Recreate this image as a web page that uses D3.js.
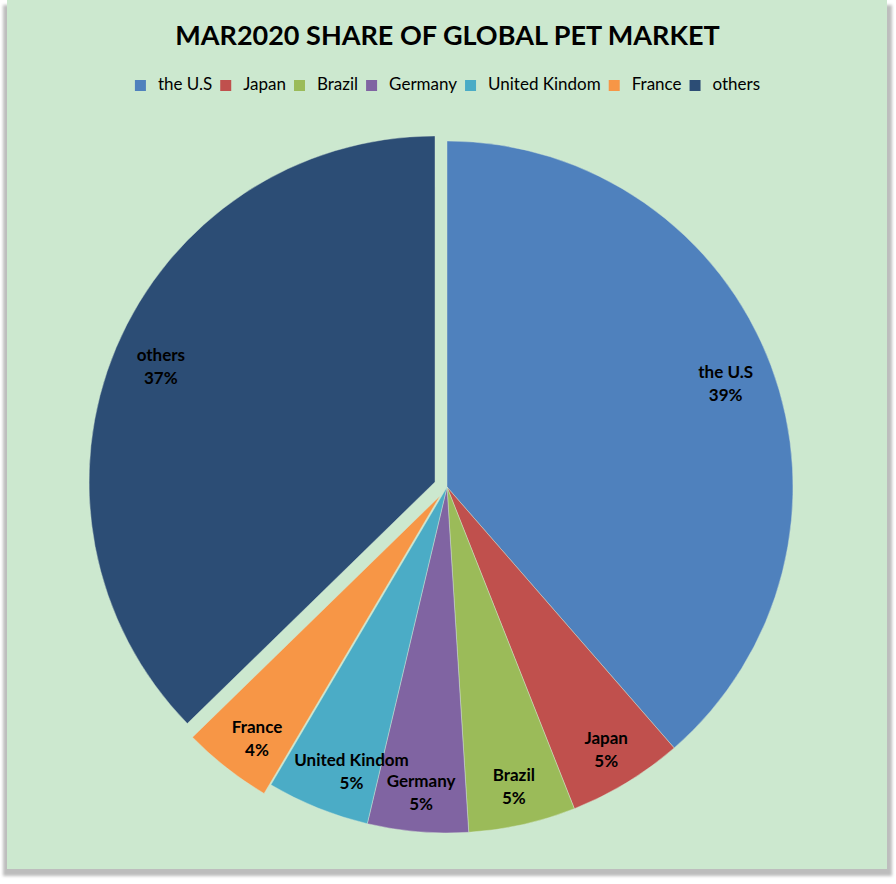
<!DOCTYPE html>
<html><head><meta charset="utf-8">
<script src="https://cdn.jsdelivr.net/npm/d3@7"></script>
<style>html,body{margin:0;padding:0;background:#fff;}svg{display:block;}</style>
</head><body>
<svg id="chart" width="896" height="884"></svg>
<script>
const titleText = "MAR2020 SHARE OF GLOBAL PET MARKET";
const categories = ["the U.S", "Japan", "Brazil", "Germany", "United Kindom", "France", "others"];
const values = [38.6, 5.4, 5.0, 4.7, 4.8, 4.2, 37.3];
const colors = ["#4F81BD", "#C0504D", "#9BBB59", "#8064A2", "#4BACC6", "#F79646", "#2C4D75"];
const explodedNames = ["France", "others"];

const W = 896, H = 884;
const svg = d3.select("#chart");
const FONT = "Lato, 'Open Sans', sans-serif";

const defs = svg.append("defs");
const f = defs.append("filter").attr("id", "sh").attr("x", "-5%").attr("y", "-5%").attr("width", "110%").attr("height", "110%");
f.append("feGaussianBlur").attr("stdDeviation", 1.5);

// panel shadow + panel
svg.append("rect").attr("x", 3).attr("y", 5).attr("width", 889).attr("height", 871)
  .attr("fill", "#bdbdbd").attr("filter", "url(#sh)");
svg.append("rect").attr("x", 7).attr("y", 0).attr("width", 880).attr("height", 869)
  .attr("fill", "#CCE8CF");

// title
svg.append("text").attr("x", 447.5).attr("y", 45).attr("text-anchor", "middle")
  .attr("font-family", FONT).attr("font-weight", "bold").attr("font-size", 27)
  .attr("fill", "#000").text(titleText);

// legend
const legend = svg.append("g");
const items = legend.selectAll("g").data(categories).join("g");
items.append("rect").attr("width", 11).attr("height", 11).attr("y", -10)
  .attr("fill", (d, i) => colors[i]);
items.append("text").attr("x", 23).attr("y", 0).attr("font-family", FONT)
  .attr("font-size", 17).attr("fill", "#000").text(d => d);
let xx = 0;
items.each(function () {
  const g = d3.select(this);
  g.attr("transform", `translate(${xx},0)`);
  const tw = g.select("text").node().getComputedTextLength();
  xx += 23 + tw + 8;
});
const totalW = xx - 8;
legend.attr("transform", `translate(${447.5 - totalW / 2},90)`);

// pie
const cx = 447, cy = 487, R = 346;
const pie = d3.pie().sort(null).value(d => d.v);
const data = categories.map((c, i) => ({ name: c, v: values[i], color: colors[i] }));
const arcs = pie(data);
const arc = d3.arc().innerRadius(0).outerRadius(R);
const total = d3.sum(values);
const explodeDist = { "France": 11, "others": 13 };
// small nudge to keep neighbouring labels apart (as the original does)
const labelNudge = { "United Kindom": [19, 0], "France": [6, 2] };

const pg = svg.append("g").attr("transform", `translate(${cx},${cy})`);
const slices = pg.selectAll("g.slice").data(arcs).join("g").attr("class", "slice")
  .attr("transform", d => {
    const off = explodedNames.includes(d.data.name) ? explodeDist[d.data.name] : 0;
    const a = (d.startAngle + d.endAngle) / 2;
    return `translate(${off * Math.sin(a)},${-off * Math.cos(a)})`;
  });
slices.append("path").attr("d", arc).attr("fill", d => d.data.color)
  .attr("stroke", "#d8ecd8").attr("stroke-width", 0.6).attr("stroke-opacity", 0.7);

const lab = slices.append("text").attr("text-anchor", "middle")
  .attr("font-family", FONT).attr("font-weight", "bold").attr("font-size", 17).attr("fill", "#000")
  .attr("transform", d => {
    const a = (d.startAngle + d.endAngle) / 2;
    const lr = (d.endAngle - d.startAngle) > 1 ? R * 0.86 : R * 0.885;
    const n = labelNudge[d.data.name] || [0, 0];
    return `translate(${lr * Math.sin(a) + n[0]},${-lr * Math.cos(a) + n[1]})`;
  });
lab.append("tspan").attr("x", 0).attr("y", -5).text(d => d.data.name);
lab.append("tspan").attr("x", 0).attr("y", 18).text(d => Math.round(d.data.v / total * 100) + "%");
</script>
</body></html>
